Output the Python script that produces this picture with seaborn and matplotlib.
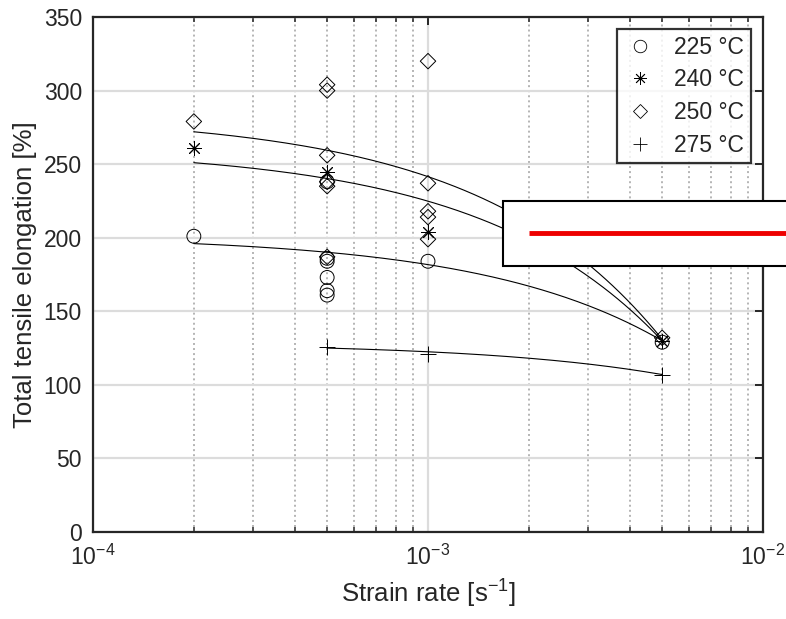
import numpy as np
import pandas as pd
import matplotlib
matplotlib.use("Agg")
import matplotlib.pyplot as plt
from matplotlib.lines import Line2D
from matplotlib.patches import Rectangle
from matplotlib.ticker import LogLocator, NullFormatter
import seaborn as sns

# ---------------- data ----------------
x_225 = [2e-4, 5e-4, 5e-4, 5e-4, 5e-4, 5e-4, 5e-4, 1e-3, 5e-3]
y_225 = [201, 238, 186, 184, 173, 164, 161, 184, 129]

x_240 = [2e-4, 5e-4, 1e-3, 5e-3]
y_240 = [261, 245, 204, 130]

x_250 = [2e-4, 5e-4, 5e-4, 5e-4, 5e-4, 5e-4, 5e-4, 1e-3, 1e-3, 1e-3, 1e-3, 1e-3, 5e-3]
y_250 = [279, 304, 300, 256, 238, 235, 187, 320, 237, 218, 214, 199, 132]

x_275 = [5e-4, 1e-3, 5e-3]
y_275 = [126, 121, 107]

labels = ["225 °C", "240 °C", "250 °C", "275 °C"]
# fitted curves y = c + a*x^p  (read as start / end values)
fit_x0 = [2e-4, 2e-4, 2e-4, 5e-4]
fit_x1 = [5e-3, 5e-3, 5e-3, 5e-3]
fit_y0 = [196, 251, 272, 125]
fit_y1 = [130, 130, 131, 107]
fit_p = 0.8

# ---------------- style ----------------
sns.set_theme(style="white")
plt.rcParams["font.family"] = ["Liberation Sans", "DejaVu Sans"]
plt.rcParams["mathtext.fontset"] = "custom"
plt.rcParams["mathtext.rm"] = "Liberation Sans"
plt.rcParams["mathtext.it"] = "Liberation Sans:italic"
plt.rcParams["mathtext.bf"] = "Liberation Sans:bold"

fig = plt.figure(figsize=(7.86, 6.19), dpi=100)
ax = fig.add_axes([93/786, 1-532/619, (763-93)/786, (532-17)/619])

series_x = [x_225, x_240, x_250, x_275]
series_y = [y_225, y_240, y_250, y_275]
markers = ["o", (8, 2, 0), "D", "+"]
sizes = [100, 100, 62, 120]

# fitted lines
for i in range(4):
    xs = np.logspace(np.log10(fit_x0[i]), np.log10(fit_x1[i]), 200)
    a = (fit_y1[i] - fit_y0[i]) / (fit_x1[i]**fit_p - fit_x0[i]**fit_p)
    c = fit_y0[i] - a * fit_x0[i]**fit_p
    df = pd.DataFrame({"x": xs, "y": c + a * xs**fit_p})
    sns.lineplot(data=df, x="x", y="y", ax=ax, color="black", lw=0.8,
                 estimator=None, sort=False, zorder=3)

# markers
for i in range(4):
    df = pd.DataFrame({"x": series_x[i], "y": series_y[i]})
    if markers[i] in ("o", "D"):
        sns.scatterplot(data=df, x="x", y="y", ax=ax, marker=markers[i], s=sizes[i],
                        facecolors="none", edgecolor="black", linewidth=0.7, zorder=4)
    else:
        sns.scatterplot(data=df, x="x", y="y", ax=ax, marker=markers[i], s=sizes[i],
                        color="black", linewidth=0.7, zorder=4)

ax.set_xscale("log")
ax.set_xlim(1e-4, 1e-2)
ax.set_ylim(0, 350)
ax.set_yticks(np.arange(0, 351, 50))
ax.xaxis.set_major_locator(LogLocator(base=10, numticks=10))
ax.xaxis.set_minor_locator(LogLocator(base=10, subs=np.arange(2, 10), numticks=20))
ax.xaxis.set_minor_formatter(NullFormatter())

ax.grid(False)
ax.yaxis.grid(True, which="major", color="#dcdcdc", lw=1.6, zorder=0)
ax.xaxis.grid(True, which="major", color="#dcdcdc", lw=1.6, zorder=0)
ax.xaxis.grid(True, which="minor", color="#b4b4b4", lw=1.4, ls=(0, (1, 1.6)), zorder=0)
ax.set_axisbelow(True)

for sp in ax.spines.values():
    sp.set_visible(True)
    sp.set_color("#262626")
    sp.set_linewidth(1.6)

ax.tick_params(axis="both", which="major", direction="in", length=6, width=1.4,
               top=True, right=True, labelsize=16.5, colors="#262626",
               labelcolor="#262626")
ax.tick_params(axis="y", which="major", pad=8)
ax.tick_params(axis="x", which="minor", direction="in", length=3.5, width=1.1,
               top=True, bottom=True, colors="#262626")
ax.tick_params(axis="x", which="major", pad=9)

ax.set_xlabel("Strain rate [s$^{-1}$]", fontsize=18.5, color="#262626", labelpad=6)
ax.set_ylabel("Total tensile elongation [%]", fontsize=18.5, color="#262626", labelpad=5)

handles = [
    Line2D([], [], ls="none", marker="o", mfc="none", mec="black", mew=0.6, ms=9),
    Line2D([], [], ls="none", marker=(8, 2, 0), color="black", mew=0.6, ms=9),
    Line2D([], [], ls="none", marker="D", mfc="none", mec="black", mew=0.6, ms=7),
    Line2D([], [], ls="none", marker="+", color="black", mew=0.6, ms=10),
]
leg = ax.legend(handles, labels, loc="upper right", bbox_to_anchor=(0.982, 0.977),
                fontsize=16.5, frameon=True, fancybox=False, borderpad=0.3,
                labelspacing=0.42, handletextpad=0.8, handlelength=1.4,
                borderaxespad=0)
leg.get_frame().set_edgecolor("black")
leg.get_frame().set_linewidth(1.6)
leg.set_zorder(10)

# overlay box with red line
rect = Rectangle((503/786, 1-266/619), 0.5, (266-201)/619, transform=fig.transFigure,
                 facecolor="white", edgecolor="black", lw=1.5, zorder=20)
fig.add_artist(rect)
fig.add_artist(Line2D([529/786, 1.0], [1-233/619, 1-233/619], transform=fig.transFigure,
                      color="#ee0000", lw=3.5, zorder=21, solid_capstyle="butt"))

fig.savefig("out.png", dpi=100)
